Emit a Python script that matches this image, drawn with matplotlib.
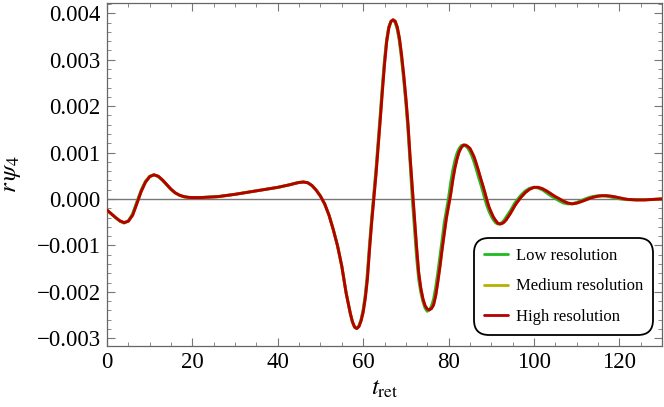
import matplotlib
matplotlib.use("Agg")
import matplotlib.pyplot as plt
from matplotlib.ticker import MultipleLocator, FuncFormatter

# ---- data (values in units of 1e-3) ----
t_ret = [0, 1, 2, 3, 4, 5, 6, 7, 8, 9, 10, 11, 12, 13, 14, 15, 16, 17, 18, 19,
         20, 22, 24, 26, 28, 30, 32, 34, 36, 38, 40, 42, 43, 44, 45, 46, 47, 48, 49, 50,
         51, 52, 53, 54, 55, 56, 57, 57.5, 58, 58.5, 59, 59.5,
         60, 60.5, 61, 61.5, 62, 62.5, 63, 63.5, 64, 64.5, 65, 65.5, 66, 66.5, 67, 67.5,
         68, 68.5, 69, 69.5, 70, 70.5, 71, 71.5, 72, 72.5, 73, 73.5, 74, 74.5, 75, 75.5,
         76, 76.5, 77, 77.5, 78, 78.5, 79, 79.5, 80, 80.5, 81, 81.5, 82, 82.5, 83, 83.5,
         84, 84.5, 85, 85.5, 86, 86.5, 87, 87.5, 88, 88.5, 89, 89.5, 90, 90.5, 91, 91.5,
         92, 92.5, 93, 93.5, 94, 94.5, 95, 95.5, 96, 96.5,
         97, 98, 99, 100, 101, 102, 103, 104, 105, 106, 107, 108, 109, 110, 111, 112,
         113, 114, 115, 116, 117, 118, 119, 120, 121, 122, 124, 126, 128, 130]

psi_high = [-0.24, -0.32, -0.40, -0.47, -0.51, -0.48, -0.35, -0.10, 0.16, 0.36, 0.48, 0.52, 0.49, 0.41, 0.31, 0.21, 0.13, 0.08, 0.05, 0.035,
            0.03, 0.03, 0.04, 0.05, 0.075, 0.10, 0.13, 0.16, 0.19, 0.22, 0.25, 0.29, 0.31, 0.335, 0.355, 0.365, 0.35, 0.29, 0.19, 0.06,
            -0.11, -0.35, -0.66, -1.01, -1.45, -2.02, -2.47, -2.65, -2.76, -2.79, -2.75, -2.63,
            -2.44, -2.14, -1.72, -1.08, -0.50, 0.02, 0.52, 1.10, 1.70, 2.32, 2.90, 3.38, 3.68, 3.82, 3.86, 3.83,
            3.70, 3.46, 3.10, 2.67, 2.18, 1.62, 0.90, 0.27, -0.35, -1.02, -1.58, -1.92, -2.15, -2.30, -2.37, -2.39,
            -2.36, -2.28, -2.08, -1.78, -1.45, -1.08, -0.74, -0.41, -0.16, 0.10, 0.41, 0.67, 0.87, 1.02, 1.11, 1.16,
            1.16, 1.13, 1.09, 1.00, 0.90, 0.76, 0.61, 0.45, 0.30, 0.14, -0.03, -0.18, -0.29, -0.39, -0.46, -0.52,
            -0.54, -0.53, -0.50, -0.45, -0.38, -0.31, -0.23, -0.15, -0.08, -0.02,
            0.04, 0.14, 0.21, 0.25, 0.25, 0.22, 0.17, 0.11, 0.05, 0.00, -0.05, -0.09, -0.105, -0.09, -0.06, -0.025,
            0.01, 0.04, 0.06, 0.07, 0.07, 0.06, 0.045, 0.025, 0.005, -0.01, -0.02, -0.02, -0.01, 0.0]

psi_medium = [-0.24, -0.32, -0.40, -0.47, -0.51, -0.48, -0.35, -0.10, 0.16, 0.36, 0.48, 0.52, 0.49, 0.41, 0.31, 0.21, 0.13, 0.08, 0.05, 0.035,
              0.03, 0.03, 0.04, 0.05, 0.075, 0.10, 0.13, 0.16, 0.19, 0.22, 0.25, 0.29, 0.31, 0.335, 0.355, 0.365, 0.35, 0.29, 0.19, 0.06,
              -0.11, -0.35, -0.66, -1.01, -1.45, -2.02, -2.47, -2.65, -2.76, -2.79, -2.75, -2.63,
              -2.44, -2.14, -1.72, -1.08, -0.50, 0.02, 0.52, 1.10, 1.70, 2.32, 2.90, 3.38, 3.68, 3.82, 3.86, 3.83,
              3.70, 3.46, 3.10, 2.67, 2.18, 1.62, 0.90, 0.27, -0.35, -1.02, -1.58, -1.92, -2.15, -2.30, -2.37, -2.39,
              -2.36, -2.28, -2.08, -1.78, -1.45, -1.08, -0.74, -0.41, -0.16, 0.10, 0.41, 0.67, 0.87, 1.02, 1.11, 1.16,
              1.16, 1.13, 1.09, 1.00, 0.90, 0.76, 0.61, 0.45, 0.30, 0.14, -0.03, -0.18, -0.29, -0.39, -0.46, -0.52,
              -0.54, -0.53, -0.50, -0.45, -0.38, -0.31, -0.23, -0.15, -0.08, -0.02,
              0.04, 0.14, 0.21, 0.25, 0.25, 0.22, 0.17, 0.11, 0.05, 0.00, -0.05, -0.09, -0.105, -0.09, -0.06, -0.025,
              0.01, 0.04, 0.06, 0.07, 0.07, 0.06, 0.045, 0.025, 0.005, -0.01, -0.02, -0.02, -0.01, 0.0]

psi_low = [-0.24, -0.32, -0.40, -0.48, -0.52, -0.47, -0.32, -0.06, 0.19, 0.38, 0.49, 0.52, 0.48, 0.40, 0.30, 0.20, 0.13, 0.08, 0.05, 0.035,
           0.03, 0.03, 0.04, 0.05, 0.075, 0.10, 0.13, 0.16, 0.19, 0.22, 0.25, 0.29, 0.31, 0.335, 0.355, 0.365, 0.35, 0.29, 0.19, 0.06,
           -0.11, -0.35, -0.66, -1.01, -1.45, -2.02, -2.47, -2.65, -2.77, -2.79, -2.74, -2.60,
           -2.38, -2.06, -1.59, -0.96, -0.40, 0.12, 0.64, 1.22, 1.82, 2.44, 3.00, 3.44, 3.71, 3.83, 3.85, 3.80,
           3.65, 3.39, 3.01, 2.57, 2.07, 1.48, 0.77, 0.02, -0.62, -1.24, -1.72, -2.01, -2.21, -2.35, -2.42, -2.39,
           -2.31, -2.16, -1.90, -1.58, -1.23, -0.88, -0.51, -0.24, 0.02, 0.35, 0.62, 0.83, 0.99, 1.09, 1.15, 1.16,
           1.14, 1.10, 1.02, 0.92, 0.79, 0.64, 0.48, 0.33, 0.17, 0.00, -0.15, -0.27, -0.37, -0.45, -0.51, -0.54,
           -0.53, -0.51, -0.46, -0.39, -0.32, -0.25, -0.17, -0.09, -0.03, 0.03,
           0.085, 0.175, 0.23, 0.25, 0.235, 0.195, 0.13, 0.065, 0.01, -0.045, -0.09, -0.107, -0.102, -0.076, -0.038, 0.0,
           0.034, 0.056, 0.068, 0.07, 0.062, 0.044, 0.024, 0.004, -0.009, -0.015, -0.02, -0.018, -0.008, 0.0]

series_labels = ["Low resolution", "Medium resolution", "High resolution"]
series_colors = ["#1fba1f", "#b8b000", "#b40000"]

y_ticks = [-0.003, -0.002, -0.001, 0.000, 0.001, 0.002, 0.003, 0.004]
x_ticks = [0, 20, 40, 60, 80, 100, 120]

# ---- style ----
plt.rcParams['font.family'] = ['Liberation Serif', 'DejaVu Serif']
plt.rcParams['mathtext.fontset'] = 'stix'

fig = plt.figure(figsize=(6.64, 4.07), dpi=100)
ax = fig.add_axes([107/664, 1 - 346/407, 555/664, (346 - 2.7)/407])

scale = 1e-3
for vals, lab, col, z in zip([psi_low, psi_medium, psi_high], series_labels, series_colors, [3, 4, 5]):
    ax.plot(t_ret, [v * scale for v in vals], color=col, lw=2.1, label=lab, zorder=z,
            solid_joinstyle='round', solid_capstyle='round')

ax.axhline(0, color='#777777', lw=1.0, zorder=2)

ax.set_xlim(0, 130)
ax.set_ylim(-0.003168, 0.004228)

ax.set_xticks(x_ticks)
ax.set_yticks(y_ticks)
ax.xaxis.set_minor_locator(MultipleLocator(5))
ax.yaxis.set_minor_locator(MultipleLocator(0.0002))

def yfmt(v, pos):
    if abs(v) < 1e-12:
        return "0.000"
    return f"{v:.3f}".replace('-', '\u2212')

ax.yaxis.set_major_formatter(FuncFormatter(yfmt))

ax.tick_params(which='both', direction='in', top=True, right=True, color='#777777')
ax.tick_params(which='major', length=5.5, width=0.8, labelsize=16.5, pad=4.5)
ax.tick_params(which='minor', length=3, width=0.6)
for sp in ax.spines.values():
    sp.set_color('#666666')
    sp.set_linewidth(0.9)

ax.set_ylabel(r'$r\,\psi_4$', fontsize=18)
ax.yaxis.set_label_coords(-0.152, 0.5)
ax.set_xlabel(r'$t_{\mathrm{ret}}$', fontsize=18)
ax.xaxis.set_label_coords(0.5, -0.093)

leg = ax.legend(loc='lower left', bbox_to_anchor=(0.661, 0.032), borderaxespad=0,
                fontsize=12, handlelength=1.45, handletextpad=0.45, labelspacing=0.88,
                frameon=True, fancybox=True, borderpad=0.6)
fr = leg.get_frame()
fr.set_edgecolor('black')
fr.set_linewidth(1.3)
fr.set_facecolor('white')
fr.set_alpha(1)
fr.set_boxstyle('round', pad=0, rounding_size=0.9)
for line in leg.get_lines():
    line.set_linewidth(2.0)

fig.savefig('out.png', dpi=100)
